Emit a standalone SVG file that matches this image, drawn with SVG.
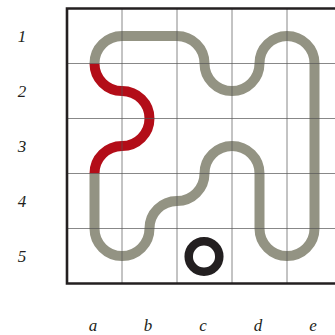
<svg xmlns="http://www.w3.org/2000/svg" width="335" height="335" viewBox="0 0 335 335">
<style>
.lbl{font-family:"Liberation Serif","DejaVu Serif",serif;font-style:italic;font-size:17px;fill:#231f20;text-anchor:middle}
.grid{stroke:#555;stroke-opacity:0.7;stroke-width:1;fill:none}
.path{fill:none;stroke-width:10;stroke-linecap:butt}
</style>
<rect width="335" height="335" fill="#fff"/>
<g id="path-gray">
<path class="path" stroke="#939383" d="M94.5,63.5 A27.5,27.5 0 0 1 122,36 L177,36 A27.5,27.5 0 0 1 204.5,63.5 A27.5,27.5 0 0 0 259.5,63.5 A27.5,27.5 0 0 1 314.5,63.5 L314.5,228.5 A27.5,27.5 0 0 1 259.5,228.5 L259.5,173.5 A27.5,27.5 0 0 0 204.5,173.5 A27.5,27.5 0 0 1 177,201 A27.5,27.5 0 0 0 149.5,228.5 A27.5,27.5 0 0 1 94.5,228.5 L94.5,173.5"/>
</g>
<g id="path-red">
<path class="path" stroke="#b30d18" d="M94.5,63.5 A27.5,27.5 0 0 0 122,91 A27.5,27.5 0 0 1 122,146 A27.5,27.5 0 0 0 94.5,173.5"/>
</g>
<g id="ring">
<circle cx="204" cy="256.5" r="15.3" fill="none" stroke="#231f20" stroke-width="8.5"/>
</g>
<g id="grid">
<path class="grid" d="M122,8.5V283.5M177,8.5V283.5M232,8.5V283.5M287,8.5V283.5M67,63.5H335M67,118.5H335M67,173.5H335M67,228.5H335"/>
<path d="M336,8.5H67V283.5H336" fill="none" stroke="#231f20" stroke-width="2.6"/>
</g>
<g id="labels">
<text class="lbl" x="22" y="42">1</text>
<text class="lbl" x="22" y="97">2</text>
<text class="lbl" x="22" y="152">3</text>
<text class="lbl" x="22" y="207">4</text>
<text class="lbl" x="22" y="262">5</text>
<text class="lbl" x="93" y="331">a</text>
<text class="lbl" x="148" y="331">b</text>
<text class="lbl" x="203" y="331">c</text>
<text class="lbl" x="258" y="331">d</text>
<text class="lbl" x="313" y="331">e</text>
</g>
</svg>
